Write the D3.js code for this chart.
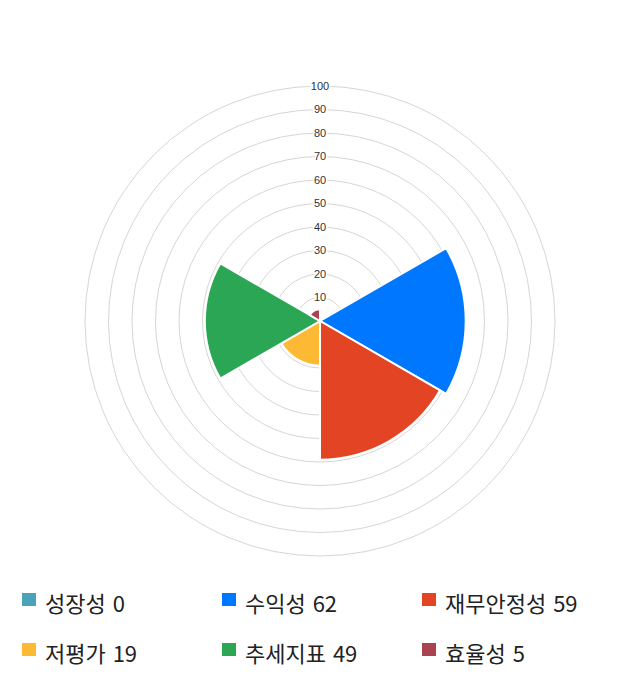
<!DOCTYPE html>
<html><head><meta charset="utf-8">
<script src="https://cdn.jsdelivr.net/npm/d3@7"></script>
<style>body{margin:0;background:#fff;} svg{display:block;}</style>
</head><body>
<svg id="c" width="640" height="700"></svg>
<script>
const categories = ["성장성","수익성","재무안정성","저평가","추세지표","효율성"];
const values = [0,62,59,19,49,5];
const colors = ["#4aa3b8","#0077ff","#e34524","#fdb933","#2aa655","#a8434f"];
const ticks = [10,20,30,40,50,60,70,80,90,100];

const svg = d3.select("#c");
const cx = 320, cy = 321, R = 235;
const r = d3.scaleLinear().domain([0,100]).range([0,R]);
const ang = d3.scaleBand().domain(categories).range([0, 2*Math.PI]);
const g = svg.append("g").attr("transform",`translate(${cx},${cy})`);

g.selectAll("circle.grid").data(ticks).join("circle")
  .attr("class","grid").attr("r",d=>r(d))
  .attr("fill","none").attr("stroke","#d6d6d6").attr("stroke-width",1);

const arc = d3.arc().innerRadius(0)
  .outerRadius((d,i)=>r(d.v))
  .startAngle(d=>ang(d.c)).endAngle(d=>ang(d.c)+ang.bandwidth());
const data = categories.map((c,i)=>({c, v: values[i], col: colors[i]}));
g.selectAll("path.sec").data(data).join("path")
  .attr("class","sec").attr("d",arc)
  .attr("fill",d=>d.col).attr("stroke","#fff").attr("stroke-width",2);

const tl = g.selectAll("g.tl").data(ticks).join("g").attr("class","tl")
  .attr("transform",d=>`translate(0,${-r(d)})`);
tl.append("text").text(d=>d)
  .attr("text-anchor","middle").attr("dy","0.35em")
  .attr("font-family","'Liberation Sans', Arial, sans-serif").attr("font-size",11)
  .attr("fill","#333")
  .attr("stroke","#fff").attr("stroke-width",3).attr("paint-order","stroke");

const leg = svg.append("g");
const li = leg.selectAll("g").data(data).join("g")
  .attr("transform",(d,i)=>`translate(${22 + (i%3)*200},${593 + Math.floor(i/3)*50})`);
li.append("rect").attr("width",14).attr("height",13).attr("fill",d=>d.col);
li.append("text").attr("x",23).attr("y",19)
  .attr("font-family","'Noto Sans CJK KR', 'Noto Sans', sans-serif").attr("font-size",22)
  .attr("word-spacing",2)
  .attr("fill","#222").text(d=>`${d.c} ${d.v}`);
</script>
</body></html>
